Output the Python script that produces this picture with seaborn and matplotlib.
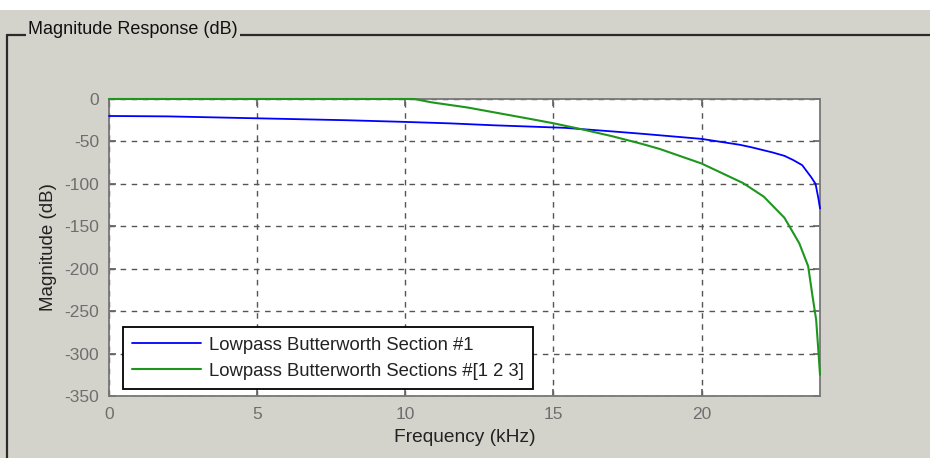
import pandas as pd
import matplotlib
matplotlib.use("Agg")
import matplotlib.pyplot as plt
import seaborn as sns
from matplotlib.lines import Line2D
from matplotlib.patches import Rectangle

# Data (frequency in kHz, magnitude in dB)
freq_s1 = [0, 2, 4, 6, 8, 10, 11.5, 13, 14.3, 15.4, 17.1, 18, 19, 20, 21.3, 21.7,
           22.4, 22.8, 23.1, 23.4, 23.7, 23.85, 23.95, 24.0]
mag_s1 = [-20, -20.5, -22, -23.5, -25, -27, -28.7, -31, -32.6, -34, -38.5, -41, -44, -47,
          -54, -57, -63, -67, -72, -78, -92, -100, -118, -129]

freq_s123 = [0, 5, 10.3, 10.9, 11.4, 12.1, 13.2, 14.3, 15, 16, 17, 18, 18.6, 20, 21.4,
             22.1, 22.8, 23.3, 23.6, 23.75, 23.87, 23.95, 24.0]
mag_s123 = [0, 0, 0, -4, -6.5, -10, -17, -24, -28.6, -36, -44, -53, -59, -76, -99,
            -115, -140, -170, -197, -233, -260, -299, -325]

labels = ["Lowpass Butterworth Section #1", "Lowpass Butterworth Sections #[1 2 3]"]
xticks = [0, 5, 10, 15, 20]
yticks = [0, -50, -100, -150, -200, -250, -300, -350]

df1 = pd.DataFrame({"f": freq_s1, "m": mag_s1})
df2 = pd.DataFrame({"f": freq_s123, "m": mag_s123})

sns.set_theme(style="white")
plt.rcParams["font.family"] = ["Liberation Sans", "DejaVu Sans"]
plt.rcParams["axes.unicode_minus"] = False

bg = "#d4d3cb"
W, H = 930, 458
fig = plt.figure(figsize=(9.3, 4.58), dpi=100, facecolor=bg)

# white strip on top of the screenshot
fig.patches.append(Rectangle((0, 1 - 10 / H), 1, 10 / H, transform=fig.transFigure,
                             facecolor="white", edgecolor="none", zorder=0))

# panel frame lines
ly = 1 - 34.5 / H
fig.lines.append(Line2D([7 / W, 1], [ly, ly], transform=fig.transFigure,
                        color="#2a2a2a", lw=1.6))
fig.lines.append(Line2D([7 / W, 7 / W], [ly, 0], transform=fig.transFigure,
                        color="#2a2a2a", lw=1.6))
fig.text(28 / W, 1 - 30 / H, "Magnitude Response (dB)", fontsize=13, color="#111111",
         va="center", ha="left",
         bbox=dict(facecolor=bg, edgecolor="none", pad=1.5))

ax = fig.add_axes([109 / W, 1 - 396 / H, 711 / W, 297 / H])
ax.set_facecolor("white")

sns.lineplot(data=df1, x="f", y="m", ax=ax, color="#0000ff", lw=1.3,
             label=labels[0], estimator=None, sort=False, zorder=5, clip_on=False)
sns.lineplot(data=df2, x="f", y="m", ax=ax, color="#1e961e", lw=1.5,
             label=labels[1], estimator=None, sort=False, zorder=5, clip_on=False)

ax.set_xlim(0, 24)
ax.set_ylim(-350, 0)
ax.set_xticks(xticks)
ax.set_yticks(yticks)
ax.grid(True, linestyle=(0, (4, 4)), color="#555555", lw=1.0)
ax.tick_params(direction="in", length=5, color="#666666", labelcolor="#6e6e6e",
               labelsize=12.5, left=True, bottom=True, top=True, right=True)
ax.tick_params(axis="y", pad=7)
ax.tick_params(axis="x", pad=8)
for s in ax.spines.values():
    s.set_color("#777777")
    s.set_linewidth(1.3)

ax.set_xlabel("Frequency (kHz)", fontsize=13.8, color="#222222", labelpad=5)
ax.set_ylabel("Magnitude (dB)", fontsize=13.5, color="#222222", labelpad=5)

leg = ax.legend(loc="lower left", bbox_to_anchor=(0.0197, 0.0236), borderaxespad=0,
                fontsize=13.3, frameon=True, fancybox=False, framealpha=1,
                edgecolor="black", handlelength=3.7, handletextpad=0.45,
                labelspacing=0.5, borderpad=0.5)
leg.get_frame().set_linewidth(1.3)
leg.set_zorder(10)
for t in leg.get_texts():
    t.set_color("#222222")

fig.savefig("out.png", dpi=100, facecolor=bg)
